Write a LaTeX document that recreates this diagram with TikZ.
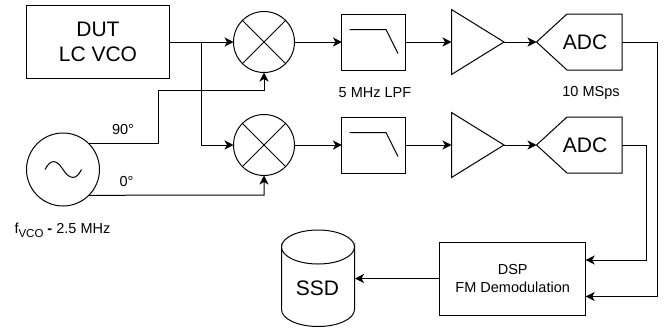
\documentclass[tikz,border=0pt]{standalone}
\usepackage{fontspec}
\setmainfont{Liberation Sans}
\usetikzlibrary{arrows.meta,calc}
\newcommand{\bigfs}{\fontsize{21}{25.5}\selectfont}
\newcommand{\smallfs}{\fontsize{14.5}{17.5}\selectfont}
\tikzset{
  every path/.style={line width=1pt},
  box/.style={draw,minimum width=#1,inner sep=0pt,outer sep=0pt},
  disc/.style={draw,circle,inner sep=0pt,outer sep=0pt,minimum size=#1},
  big/.style={font=\bigfs,align=center,inner sep=0pt},
  small/.style={font=\smallfs,align=center,inner sep=0pt},
  wire/.style={-{Stealth[length=9pt,width=9pt,inset=2.5pt]},line join=miter}
}
\begin{document}
\begin{tikzpicture}[x=1pt,y=-1pt]
\useasboundingbox (0,0) rectangle (664,330);
% Blocks
\node[box=142.5pt,minimum height=72.5pt,big] (dut) at (98,42) {DUT\\LC VCO};
\node[disc=61pt] (mix1) at (264,42) {};
\node[disc=61pt] (mix2) at (264,145) {};
\foreach \m in {mix1,mix2}{
  \draw (\m.45) -- (\m.225);
  \draw (\m.135) -- (\m.315);
}
\node[disc=73pt] (osc) at (63,169.5) {};
\draw (45,169.5) .. controls (51,158) and (57,160) .. (63,169.5) .. controls (69,179) and (76,181) .. (81.5,169.5);
% Filters
\node[box=63.5pt,minimum height=56pt] (lpf1) at (373.7,42) {};
\node[box=63.5pt,minimum height=56pt] (lpf2) at (373.7,145) {};
\foreach \f/\y in {lpf1/29.5,lpf2/132.5}{
  \draw[line join=miter] (349.5,\y) -- (386,\y) -- (398,\y+24);
}
% Amplifiers
\coordinate (amp1in) at (451.5,42);
\coordinate (amp1out) at (504,42);
\coordinate (amp2in) at (451.5,145);
\coordinate (amp2out) at (504,145);
\draw[line join=miter] (451.5,9.5) -- (amp1out) -- (451.5,74.5) -- cycle;
\draw[line join=miter] (451.5,112.5) -- (amp2out) -- (451.5,177.5) -- cycle;
% ADCs
\coordinate (adc1in) at (536.5,42);
\coordinate (adc1out) at (622,42);
\coordinate (adc2in) at (536.5,145);
\coordinate (adc2out) at (622,145);
\draw[line join=miter] (adc1in) -- (567,14) -- (622,14) -- (622,70) -- (567,70) -- cycle;
\draw[line join=miter] (adc2in) -- (567,117) -- (622,117) -- (622,173) -- (567,173) -- cycle;
\node[big] (adc1) at (585,42) {ADC};
\node[big] (adc2) at (585,145) {ADC};
% DSP
\node[box=146pt,minimum height=73pt,small] (dsp) at (512.7,278.5) {DSP\\FM Demodulation};
% SSD
\draw (281.5,247) arc[start angle=180,end angle=0,x radius=36.5,y radius=17]
  -- (354.5,309.5) arc[start angle=0,end angle=180,x radius=36.5,y radius=17] -- cycle;
\draw (281.5,247) arc[start angle=180,end angle=360,x radius=36.5,y radius=17];
\node[big] (ssd) at (317.5,288) {SSD};
\coordinate (ssdin) at (355,278.5);
% Connectors
\coordinate (branch) at (201.5,42);
\draw[wire] (dut.east) -- (mix1.west);
\draw[wire] (dut.east) -- (branch) |- (mix2.west);
\draw[wire] (osc.45) -- ++(69.5,0) |- (264,90.5) -- (mix1.south);
\draw[wire] (osc.-45) -- (264,195) -- (mix2.south);
\draw[wire] (mix1.east) -- (lpf1.west);
\draw[wire] (mix2.east) -- (lpf2.west);
\draw[wire] (lpf1.east) -- (amp1in);
\draw[wire] (lpf2.east) -- (amp2in);
\draw[wire] (amp1out) -- (adc1in);
\draw[wire] (amp2out) -- (adc2in);
\draw[wire] (adc1out) -- (657,42) -- (657,296.5) -- (dsp.east |- 0,296.5);
\draw[wire] (adc2out) -- (646,145) -- (646,260) -- (dsp.east |- 0,260);
\draw[wire] (dsp.west) -- (ssdin);
% Labels
\node[small] (l90) at (123,130) {90°};
\node[small] (l0) at (126.5,182) {0°};
\node[small,anchor=base west] (fvco) at (14,233.5) {f\raisebox{-3.5pt}{\fontsize{11.5}{13}\selectfont VCO} \textbf{-} 2.5 MHz};
\node[small] (llpf) at (375,92.5) {5 MHz LPF};
\node[small] (lmsps) at (591,92.5) {10 MSps};
\end{tikzpicture}
\end{document}
